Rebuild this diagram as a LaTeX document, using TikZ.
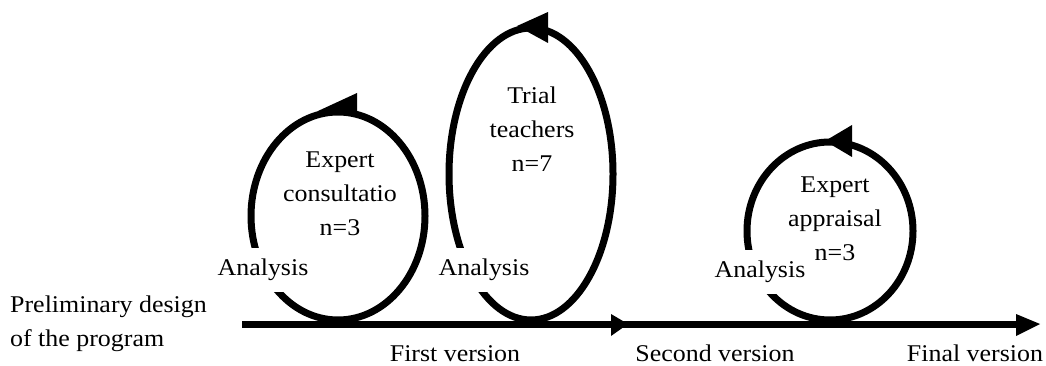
\documentclass[tikz,border=0pt]{standalone}
\usepackage{fontspec}
\setmainfont[FakeStretch=1.08]{Liberation Serif}
\begin{document}
\begin{tikzpicture}[x=1pt,y=-1pt,
  loop/.style={line width=7pt,draw=black},
  head/.style={fill=black},
  lbl/.style={font=\fontsize{24}{34}\selectfont,align=center,inner sep=0pt},
  ana/.style={font=\fontsize{24}{34}\selectfont,fill=white,inner xsep=2pt,inner ysep=11pt}]
\useasboundingbox (0,0) rectangle (1046,366);
% main line
\coordinate (s) at (242,324);
\coordinate (e) at (1018,324);
\draw[line width=7pt] (s) -- (e);
\fill[head] (611,314) -- (628,324) -- (611,336) -- cycle;
\fill[head] (1016,314) -- (1040,324) -- (1016,336) -- cycle;
% loops
\draw[loop] (338,216) ellipse [x radius=87pt, y radius=104pt];
\draw[loop] (531,174) ellipse [x radius=82pt, y radius=146pt];
\draw[loop] (830,231) ellipse [x radius=83pt, y radius=89pt];
% loop arrowheads
\fill[head] (357,93) -- (357,115) -- (318,111) -- cycle;
\fill[head] (548,12) -- (548,43) -- (517,26) -- cycle;
\fill[head] (852,125) -- (852,157) -- (825,141) -- cycle;
% analysis labels
\node[ana] (a1) at (263,270) {Analysis};
\node[ana] (a2) at (484,270) {Analysis};
\node[ana] (a3) at (760,272) {Analysis};
% loop texts
\node[lbl] (t1) at (340,194) {Expert\\consultatio\\n=3};
\node[lbl] (t2) at (532,129) {Trial\\teachers\\n=7};
\node[lbl] (t3) at (835,219) {Expert\\appraisal\\n=3};
% bottom texts
\node[lbl,align=left,anchor=west] (pre) at (10,324) {Preliminary design\\of the program};
\node[lbl,anchor=base] (v1) at (455,361) {First version};
\node[lbl,anchor=base] (v2) at (715,361) {Second version};
\node[lbl,anchor=base] (v3) at (975,361) {Final version};
\end{tikzpicture}
\end{document}
